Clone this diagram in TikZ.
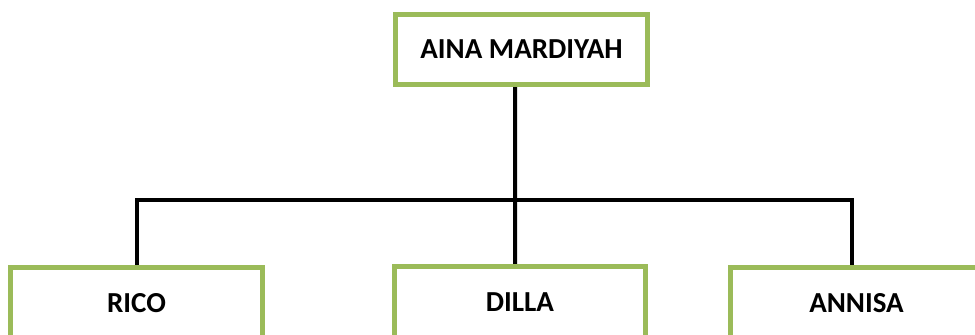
\documentclass[tikz,border=0pt]{standalone}
\usepackage{fontspec}
\setmainfont{Carlito}
\usetikzlibrary{backgrounds}
\definecolor{boxgreen}{HTML}{9BBB59}
\tikzset{
  person/.style={draw=boxgreen,line width=0.1cm,fill=white,minimum width=5.04cm,minimum height=1.44cm,
    inner sep=0pt,font=\fontsize{16.5}{19}\selectfont\bfseries},
  link/.style={line width=0.08cm,black}
}
\begin{document}
\begin{tikzpicture}[x=0.02cm,y=-0.02cm]
		\clip (0,0) rectangle (975,335);
		% boxes
		\node[person,minimum height=1.4cm] (aina) at (521.5,49.5) {AINA MARDIYAH};
		\node[person] (rico) at (136.5,303.5) {RICO};
		\node[person] (dilla) at (520,302.5) {DILLA};
		\node[person] (annisa) at (856.5,303) {ANNISA};
		% lines
		\begin{pgfonlayer}{background}
		\fill[white] (0,0) rectangle (975,335);
		\coordinate (bus) at (515,200);
		\draw[link] ([xshift=-0.13cm]aina.south) -- ([xshift=-0.1cm]dilla.north);
		\draw[link] (rico.north) |- (bus) -| ([xshift=-0.09cm]annisa.north);
		\end{pgfonlayer}
\end{tikzpicture}
\end{document}
